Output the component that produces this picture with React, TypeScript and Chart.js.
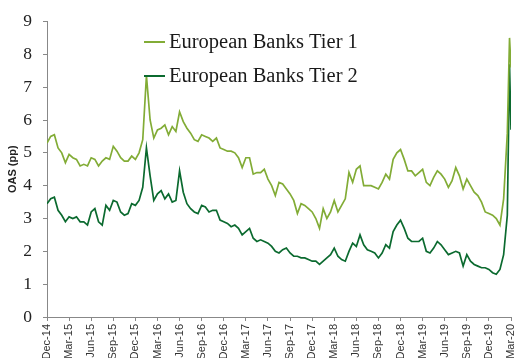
import React, { useEffect, useRef } from "react";
import { Chart, registerables } from "chart.js";

Chart.register(...registerables);

// x position in months since Dec-2014 (half-month steps, plus the final days of the spike)
const months: number[] = [...Array.from({ length: 126 }, (_, i) => i * 0.5), 62.8, 63.0];

const tickLabels = [
  "Dec-14", "Mar-15", "Jun-15", "Sep-15", "Dec-15", "Mar-16", "Jun-16", "Sep-16",
  "Dec-16", "Mar-17", "Jun-17", "Sep-17", "Dec-17", "Mar-18", "Jun-18", "Sep-18",
  "Dec-18", "Mar-19", "Jun-19", "Sep-19", "Dec-19", "Mar-20",
];

const tier1: number[] = [
  5.3, 5.5, 5.55, 5.15, 5.0, 4.7, 4.95, 4.85, 4.8, 4.6,
  4.65, 4.6, 4.85, 4.8, 4.6, 4.75, 4.85, 4.8, 5.2, 5.05,
  4.85, 4.75, 4.75, 4.9, 4.8, 5.0, 5.4, 7.35, 6.0, 5.45,
  5.7, 5.75, 5.85, 5.55, 5.8, 5.65, 6.25, 5.95, 5.75, 5.6,
  5.4, 5.35, 5.55, 5.5, 5.45, 5.35, 5.45, 5.15, 5.1, 5.05,
  5.05, 5.0, 4.85, 4.55, 4.85, 4.85, 4.35, 4.4, 4.4, 4.5,
  4.2, 4.0, 3.7, 4.1, 4.05, 3.9, 3.75, 3.55, 3.15, 3.45,
  3.4, 3.3, 3.2, 3.0, 2.7, 3.3, 3.0, 3.2, 3.55, 3.2,
  3.4, 3.6, 4.4, 4.1, 4.5, 4.6, 4.0, 4.0, 4.0, 3.95,
  3.9, 4.1, 4.35, 4.2, 4.8, 5.0, 5.1, 4.8, 4.45, 4.45,
  4.3, 4.4, 4.5, 4.1, 4.0, 4.25, 4.45, 4.35, 4.2, 3.95,
  4.15, 4.55, 4.3, 3.9, 4.2, 4.0, 3.8, 3.7, 3.5, 3.2,
  3.15, 3.1, 3.0, 2.8, 3.6, 5.6, 8.5, 7.6,
];

const tier2: number[] = [
  3.45, 3.6, 3.65, 3.25, 3.1, 2.9, 3.05, 3.0, 3.05, 2.9,
  2.9, 2.8, 3.2, 3.3, 2.9, 2.8, 3.4, 3.25, 3.55, 3.5,
  3.2, 3.1, 3.15, 3.45, 3.4, 3.55, 3.95, 5.15, 4.3, 3.55,
  3.75, 3.85, 3.6, 3.75, 3.5, 3.55, 4.45, 3.8, 3.45, 3.3,
  3.2, 3.15, 3.4, 3.35, 3.2, 3.25, 3.25, 2.95, 2.9, 2.85,
  2.75, 2.8, 2.7, 2.5, 2.6, 2.7, 2.4, 2.3, 2.35, 2.3,
  2.25, 2.15, 2.0, 1.95, 2.05, 2.1, 1.95, 1.85, 1.85, 1.8,
  1.8, 1.75, 1.7, 1.7, 1.6, 1.7, 1.8, 1.9, 2.1, 1.85,
  1.75, 1.7, 2.0, 2.25, 2.15, 2.5, 2.2, 2.05, 2.0, 1.95,
  1.8, 1.95, 2.2, 2.1, 2.6, 2.8, 2.95, 2.7, 2.4, 2.3,
  2.3, 2.3, 2.4, 2.0, 1.95, 2.1, 2.3, 2.2, 2.05, 1.9,
  1.95, 2.0, 1.95, 1.55, 1.9, 1.7, 1.6, 1.55, 1.5, 1.5,
  1.45, 1.35, 1.3, 1.45, 1.9, 3.1, 7.7, 5.7,
];

const yTicks = [0, 1, 2, 3, 4, 5, 6, 7, 8, 9];

const TIER1_COLOR = "#82AC36";
const TIER2_COLOR = "#0B6A2F";

const legendPlugin = {
  id: "insideLegend",
  afterDraw(chart: any) {
    const ctx = chart.ctx;
    const items = [
      { y: 42, ds: chart.data.datasets[0] },
      { y: 76, ds: chart.data.datasets[1] },
    ];
    ctx.save();
    ctx.font = '20.5px "Liberation Serif"';
    ctx.textBaseline = "middle";
    ctx.textAlign = "left";
    items.forEach((it) => {
      ctx.strokeStyle = it.ds.borderColor;
      ctx.lineWidth = 2;
      ctx.beginPath();
      ctx.moveTo(144, it.y);
      ctx.lineTo(165, it.y);
      ctx.stroke();
      ctx.fillStyle = "#1a1a1a";
      ctx.fillText(it.ds.label, 169, it.y + 1);
    });
    ctx.restore();
  },
};

export default function App() {
  const ref = useRef<HTMLCanvasElement | null>(null);

  useEffect(() => {
    document.body.style.margin = "0";
    const canvas = ref.current!;
    const chart = new Chart(canvas, {
      type: "line",
      data: {
        datasets: [
          {
            label: "European Banks Tier 1",
            data: months.map((m, i) => ({ x: m, y: tier1[i] })),
            borderColor: TIER1_COLOR,
            borderWidth: 1.7,
            pointRadius: 0,
            tension: 0,
          },
          {
            label: "European Banks Tier 2",
            data: months.map((m, i) => ({ x: m, y: tier2[i] })),
            borderColor: TIER2_COLOR,
            borderWidth: 1.7,
            pointRadius: 0,
            tension: 0,
          },
        ],
      },
      options: {
        animation: false,
        responsive: false,
        devicePixelRatio: 1,
        layout: { padding: { top: 21, right: 19, left: 0, bottom: 0 } },
        plugins: { legend: { display: false }, tooltip: { enabled: false } },
        scales: {
          x: {
            type: "linear",
            min: 0,
            max: 63,
            afterBuildTicks: (scale: any) => {
              scale.ticks = tickLabels.map((_, i) => ({ value: i * 3 }));
            },
            afterFit: (scale: any) => {
              scale.height = 63;
            },
            ticks: {
              autoSkip: false,
              minRotation: 90,
              maxRotation: 90,
              padding: 3,
              color: "#333",
              font: { family: "Liberation Sans", size: 11 },
              callback: (v: any) => tickLabels[Math.round(Number(v) / 3)] ?? "",
            },
            grid: {
              drawOnChartArea: false,
              drawTicks: true,
              tickLength: 4,
              color: "#888",
            },
            border: { color: "#888", width: 1 },
          },
          y: {
            min: 0,
            max: 9,
            afterBuildTicks: (scale: any) => {
              scale.ticks = yTicks.map((v) => ({ value: v }));
            },
            afterFit: (scale: any) => {
              scale.width = 47;
            },
            ticks: {
              padding: 11,
              color: "#222",
              font: { family: "Liberation Serif", size: 17.5 },
            },
            title: {
              display: true,
              text: "OAS (pp)",
              color: "#222",
              padding: { top: 6, bottom: 0 },
              font: { family: "Liberation Sans", size: 11, weight: "bold" },
            },
            grid: {
              drawOnChartArea: false,
              drawTicks: true,
              tickLength: 4,
              color: "#888",
            },
            border: { color: "#888", width: 1 },
          },
        },
      },
      plugins: [legendPlugin],
    });
    return () => chart.destroy();
  }, []);

  return (
    <div style={{ width: 515, height: 358, overflow: "hidden", position: "relative", background: "#fff" }}>
      <canvas ref={ref} width={530} height={380} style={{ display: "block" }} />
    </div>
  );
}
